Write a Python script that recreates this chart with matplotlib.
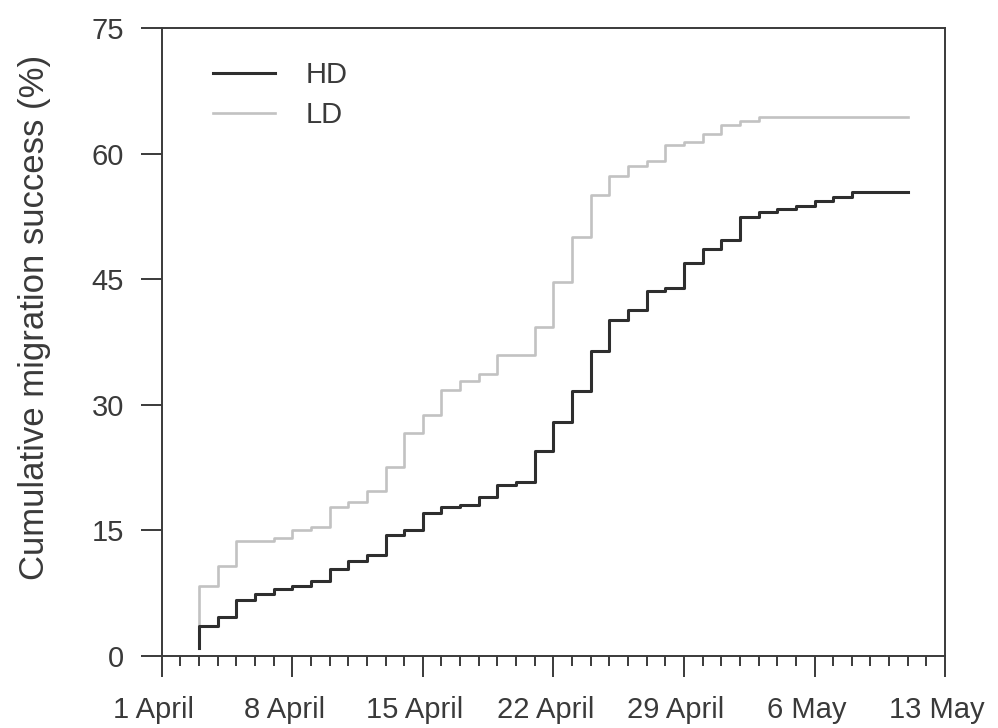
import numpy as np
import matplotlib
matplotlib.use("Agg")
import matplotlib.pyplot as plt
from matplotlib.ticker import MultipleLocator
from matplotlib.transforms import ScaledTranslation

plt.rcParams['font.family'] = ['Liberation Sans', 'DejaVu Sans']

# days since 1 April (day 0); cumulative migration success (%)
hd_days = [2, 2, 3, 4, 5, 6, 7, 8, 9, 10, 11, 12, 13, 14, 15, 16, 17, 18, 19, 20,
           21, 22, 23, 24, 25, 26, 27, 28, 29, 30, 31, 32, 33, 34, 35, 36, 37, 40]
hd_vals = [1.0, 3.6, 4.6, 6.7, 7.4, 8.0, 8.3, 9.0, 10.4, 11.3, 12.1, 14.4, 15.1, 17.1,
           17.8, 18.0, 19.0, 20.4, 20.8, 24.5, 28.0, 31.7, 36.4, 40.1, 41.3, 43.6, 44.0,
           47.0, 48.6, 49.7, 52.4, 53.0, 53.4, 53.8, 54.4, 54.8, 55.4, 55.4]

ld_days = [2, 2, 3, 4, 5, 6, 7, 8, 9, 10, 11, 12, 13, 14, 15, 16, 17, 18, 19, 20,
           21, 22, 23, 24, 25, 26, 27, 28, 29, 30, 31, 32, 40]
ld_vals = [3.6, 8.4, 10.7, 13.7, 13.7, 14.1, 15.0, 15.4, 17.8, 18.4, 19.7, 22.6, 26.7,
           28.8, 31.8, 32.8, 33.7, 36.0, 36.0, 39.3, 44.7, 50.1, 55.1, 57.3, 58.5, 59.1,
           61.1, 61.4, 62.4, 63.4, 63.9, 64.4, 64.4]

tick_days = [0, 7, 14, 21, 28, 35, 42]
tick_labels = ['1 April', '8 April', '15 April', '22 April', '29 April', '6 May', '13 May']

txt = '#3a3a3a'
fig = plt.figure(figsize=(9.98, 7.28), dpi=100)
ax = fig.add_axes([0.162, 0.099, 0.785, 0.862])

ax.step(ld_days, ld_vals, where='post', color='#c2c2c2', lw=1.9, label='LD', zorder=2)
ax.step(hd_days, hd_vals, where='post', color='#2e2e2e', lw=2.2, label='HD', zorder=3)

ax.set_xlim(0, 42)
ax.set_ylim(0, 75)
ax.set_xticks(tick_days)
ax.set_xticklabels(tick_labels)
ax.xaxis.set_minor_locator(MultipleLocator(1))
ax.set_yticks([0, 15, 30, 45, 60, 75])

for s in ax.spines.values():
    s.set_color('#3a3a3a')
    s.set_linewidth(1.4)

ax.tick_params(axis='both', which='major', direction='out', length=15, width=1.4,
               color='#3a3a3a', labelcolor=txt, labelsize=21)
ax.tick_params(axis='y', pad=12)
ax.tick_params(axis='x', pad=14)
ax.tick_params(axis='x', which='minor', direction='out', length=7.5, width=1.4,
               color='#3a3a3a')

# x labels sit slightly left of their ticks in the original
shift = ScaledTranslation(-8 / 100, 0, fig.dpi_scale_trans)
for lab in ax.get_xticklabels():
    lab.set_transform(lab.get_transform() + shift)

ax.set_ylabel('Cumulative migration success (%)', fontsize=25, color=txt, labelpad=29)
ax.yaxis.label.set_y(0.54)

handles, labels = ax.get_legend_handles_labels()
ax.legend(handles[::-1], labels[::-1], loc='upper left', bbox_to_anchor=(0.065, 0.948),
          frameon=False, fontsize=21, handlelength=2.15, handletextpad=1.05,
          labelspacing=0.42, borderpad=0, borderaxespad=0, labelcolor=txt)

plt.savefig('out.png', dpi=100)
